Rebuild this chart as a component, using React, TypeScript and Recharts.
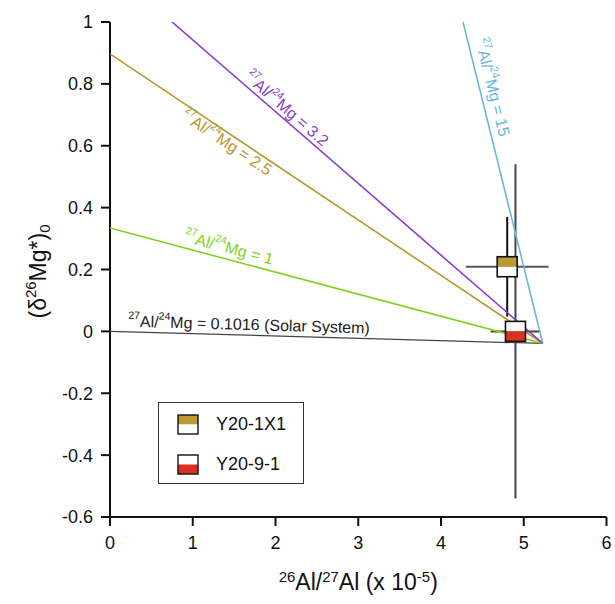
import React from 'react';
import { ScatterChart, Scatter, XAxis, YAxis, ErrorBar, ReferenceDot, Legend } from 'recharts';

const FONT = '"Liberation Sans", Arial, Helvetica, sans-serif';

const xTicks = [0, 1, 2, 3, 4, 5, 6];
const yTicks = [-0.6, -0.4, -0.2, 0, 0.2, 0.4, 0.6, 0.8, 1];

// isochron lines (all meet at the bulk point)
const solarLine = [{ x: 0, y: 0 }, { x: 5.23, y: -0.039 }];
const ratio1Line = [{ x: 0, y: 0.334 }, { x: 5.23, y: -0.039 }];
const ratio25Line = [{ x: 0, y: 0.897 }, { x: 5.23, y: -0.039 }];
const ratio32Line = [{ x: 0.75, y: 1 }, { x: 5.23, y: -0.039 }];
const ratio15Line = [{ x: 4.266, y: 1 }, { x: 5.23, y: -0.039 }];

// samples
const sampleY20_1X1 = [{ x: 4.8, y: 0.209, ex: 0.5, ey: 0.161 }];
const sampleY20_9_1 = [{ x: 4.9, y: 0.0, ex: 0.3, ey: 0.54 }];

// line labels
const lineLabels = [
  { text: ' = 0.1016 (Solar System)', x: 1.68, y: 0.0236, rot: 1.6, color: '#222222' },
  { text: ' = 1', x: 1.438, y: 0.272, rot: 14.9, color: '#7ED321' },
  { text: ' = 2.5', x: 1.414, y: 0.612, rot: 33.8, color: '#B8962E' },
  { text: ' = 3.2', x: 2.139, y: 0.721, rot: 40.9, color: '#8B3CCB' },
  { text: ' = 15', x: 4.628, y: 0.789, rot: 76, color: '#6BB7DA' },
];

const COLORS = {
  solar: '#444444',
  r1: '#7ED321',
  r25: '#B8962E',
  r32: '#8B3CCB',
  r15: '#6BB7DA',
  gold: '#B99B2F',
  red: '#D93222',
};

const noShape = () => <g />;

const makeSquare = (top: string, bottom: string) => (props: any) => {
  const { cx, cy } = props;
  if (cx == null || cy == null) return <g />;
  return (
    <g>
      <rect x={cx - 10} y={cy - 10} width={20} height={10} fill={top} />
      <rect x={cx - 10} y={cy} width={20} height={10} fill={bottom} />
      <rect x={cx - 10} y={cy - 10} width={20} height={20} fill="none" stroke="#111" strokeWidth={1.6} />
    </g>
  );
};

const ratioLabel = (lbl: any) => (props: any) => {
  const { cx, cy } = props;
  const s = 16;
  const ss = 10.5;
  return (
    <text
      x={cx}
      y={cy}
      fill={lbl.color}
      fontFamily={FONT}
      fontSize={s}
      textAnchor="middle"
      dominantBaseline="central"
      transform={`rotate(${lbl.rot}, ${cx}, ${cy})`}
    >
      <tspan fontSize={ss} dy={-6}>27</tspan>
      <tspan fontSize={s} dy={6}>Al/</tspan>
      <tspan fontSize={ss} dy={-6}>24</tspan>
      <tspan fontSize={s} dy={6}>{'Mg' + lbl.text}</tspan>
    </text>
  );
};

const LegendIcon = ({ top, bottom }: { top: string; bottom: string }) => (
  <svg width={22} height={21} style={{ display: 'block' }}>
    <rect x={1} y={1} width={20} height={9.5} fill={top} />
    <rect x={1} y={10.5} width={20} height={9.5} fill={bottom} />
    <rect x={1} y={1} width={20} height={19} fill="none" stroke="#111" strokeWidth={1.4} />
  </svg>
);

const legendItems = [
  { name: 'Y20-1X1', top: COLORS.gold, bottom: '#ffffff' },
  { name: 'Y20-9-1', top: '#ffffff', bottom: COLORS.red },
];

const LegendContent = () => (
  <div
    style={{
      width: 146,
      height: 82,
      boxSizing: 'border-box',
      border: '1.5px solid #333',
      background: '#fff',
      position: 'relative',
      fontFamily: FONT,
      fontSize: 18,
      color: '#111',
    }}
  >
    {legendItems.map((it, i) => (
      <div key={it.name} style={{ position: 'absolute', left: 18, top: 11 + i * 40, display: 'flex', alignItems: 'center' }}>
        <LegendIcon top={it.top} bottom={it.bottom} />
        <span style={{ marginLeft: 17, lineHeight: '21px' }}>{it.name}</span>
      </div>
    ))}
  </div>
);

const YLabel = (props: any) => {
  const vb = props.viewBox || { x: 0, y: 0, width: 110, height: 495 };
  const cx = vb.x + 38;
  const cy = vb.y + vb.height / 2 + 2;
  return (
    <text
      x={cx}
      y={cy}
      fontFamily={FONT}
      fontSize={23}
      fill="#111"
      textAnchor="middle"
      dominantBaseline="central"
      transform={`rotate(-90, ${cx}, ${cy})`}
    >
      <tspan>(δ</tspan>
      <tspan fontSize={15} dy={-8}>26</tspan>
      <tspan fontSize={23} dy={8}>Mg*)</tspan>
      <tspan fontSize={15} dy={6}>0</tspan>
    </text>
  );
};

const XLabel = (props: any) => {
  const vb = props.viewBox || { x: 110, y: 517, width: 496, height: 87 };
  const cx = vb.x + vb.width / 2;
  const cy = vb.y + 73;
  return (
    <text x={cx} y={cy} fontFamily={FONT} fontSize={23} fill="#111" textAnchor="middle">
      <tspan fontSize={15} dy={-8}>26</tspan>
      <tspan fontSize={23} dy={8}>Al/</tspan>
      <tspan fontSize={15} dy={-8}>27</tspan>
      <tspan fontSize={23} dy={8}>Al (x 10</tspan>
      <tspan fontSize={15} dy={-8}>-5</tspan>
      <tspan fontSize={23} dy={8}>)</tspan>
    </text>
  );
};

const axisLine = { stroke: '#111', strokeWidth: 2 };
const tickLine = { stroke: '#111', strokeWidth: 2 };
const tickStyle = { fill: '#111', fontSize: 18, fontFamily: FONT };

export default function App() {
  return (
    <div style={{ position: 'absolute', left: 0, top: 0, width: 615, height: 604, background: '#fff' }}>
      <ScatterChart width={615} height={604} margin={{ top: 22, right: 8.5, left: 0, bottom: 0 }}>
        <XAxis
          xAxisId="b"
          type="number"
          dataKey="x"
          domain={[0, 6]}
          ticks={xTicks}
          allowDataOverflow
          height={87}
          axisLine={axisLine}
          tickLine={tickLine}
          tickSize={9}
          tickMargin={10}
          tick={tickStyle}
          label={{ content: XLabel }}
        />
        <XAxis
          xAxisId="t"
          orientation="top"
          type="number"
          dataKey="x"
          domain={[0, 6]}
          ticks={xTicks}
          allowDataOverflow
          height={0}
          axisLine={axisLine}
          tickLine={tickLine}
          tickSize={8}
          tickFormatter={() => ''}
        />
        <YAxis
          yAxisId="l"
          type="number"
          dataKey="y"
          domain={[-0.6, 1]}
          ticks={yTicks}
          allowDataOverflow
          width={110}
          axisLine={axisLine}
          tickLine={tickLine}
          tickSize={9}
          tickMargin={8}
          tick={tickStyle}
          tickFormatter={(v: number) => String(v)}
          label={{ content: YLabel }}
        />
        <YAxis
          yAxisId="r"
          orientation="right"
          type="number"
          dataKey="y"
          domain={[-0.6, 1]}
          ticks={yTicks}
          allowDataOverflow
          width={0}
          axisLine={axisLine}
          tickLine={tickLine}
          tickSize={8}
          tickFormatter={() => ''}
        />

        <Scatter xAxisId="t" yAxisId="r" data={solarLine} line={{ stroke: COLORS.solar, strokeWidth: 1.3 }} shape={noShape} legendType="none" isAnimationActive={false} />
        <Scatter xAxisId="b" yAxisId="l" data={ratio1Line} line={{ stroke: COLORS.r1, strokeWidth: 1.6 }} shape={noShape} legendType="none" isAnimationActive={false} />
        <Scatter xAxisId="b" yAxisId="l" data={ratio25Line} line={{ stroke: COLORS.r25, strokeWidth: 1.6 }} shape={noShape} legendType="none" isAnimationActive={false} />
        <Scatter xAxisId="b" yAxisId="l" data={ratio32Line} line={{ stroke: COLORS.r32, strokeWidth: 1.6 }} shape={noShape} legendType="none" isAnimationActive={false} />
        <Scatter xAxisId="b" yAxisId="l" data={ratio15Line} line={{ stroke: COLORS.r15, strokeWidth: 1.6 }} shape={noShape} legendType="none" isAnimationActive={false} />

        <Scatter xAxisId="b" yAxisId="l" name="Y20-9-1" data={sampleY20_9_1} shape={makeSquare('#ffffff', COLORS.red)} isAnimationActive={false}>
          <ErrorBar dataKey="ex" direction="x" width={0} stroke="#444" strokeWidth={2} isAnimationActive={false} />
          <ErrorBar dataKey="ey" direction="y" width={0} stroke="#444" strokeWidth={2} isAnimationActive={false} />
        </Scatter>
        <Scatter xAxisId="b" yAxisId="l" name="Y20-1X1" data={sampleY20_1X1} shape={makeSquare(COLORS.gold, '#ffffff')} isAnimationActive={false}>
          <ErrorBar dataKey="ex" direction="x" width={0} stroke="#555" strokeWidth={2} isAnimationActive={false} />
          <ErrorBar dataKey="ey" direction="y" width={0} stroke="#111" strokeWidth={2} isAnimationActive={false} />
        </Scatter>

        {lineLabels.map((lbl, i) => (
          <ReferenceDot
            key={i}
            xAxisId="b"
            yAxisId="l"
            x={lbl.x}
            y={lbl.y}
            r={0}
            ifOverflow="visible"
            shape={ratioLabel(lbl)}
          />
        ))}

        <Legend
          layout="vertical"
          align="center"
          verticalAlign="middle"
          content={LegendContent}
          wrapperStyle={{ position: 'absolute', left: 158, top: 402, width: 146, height: 82 }}
        />
      </ScatterChart>
    </div>
  );
}
